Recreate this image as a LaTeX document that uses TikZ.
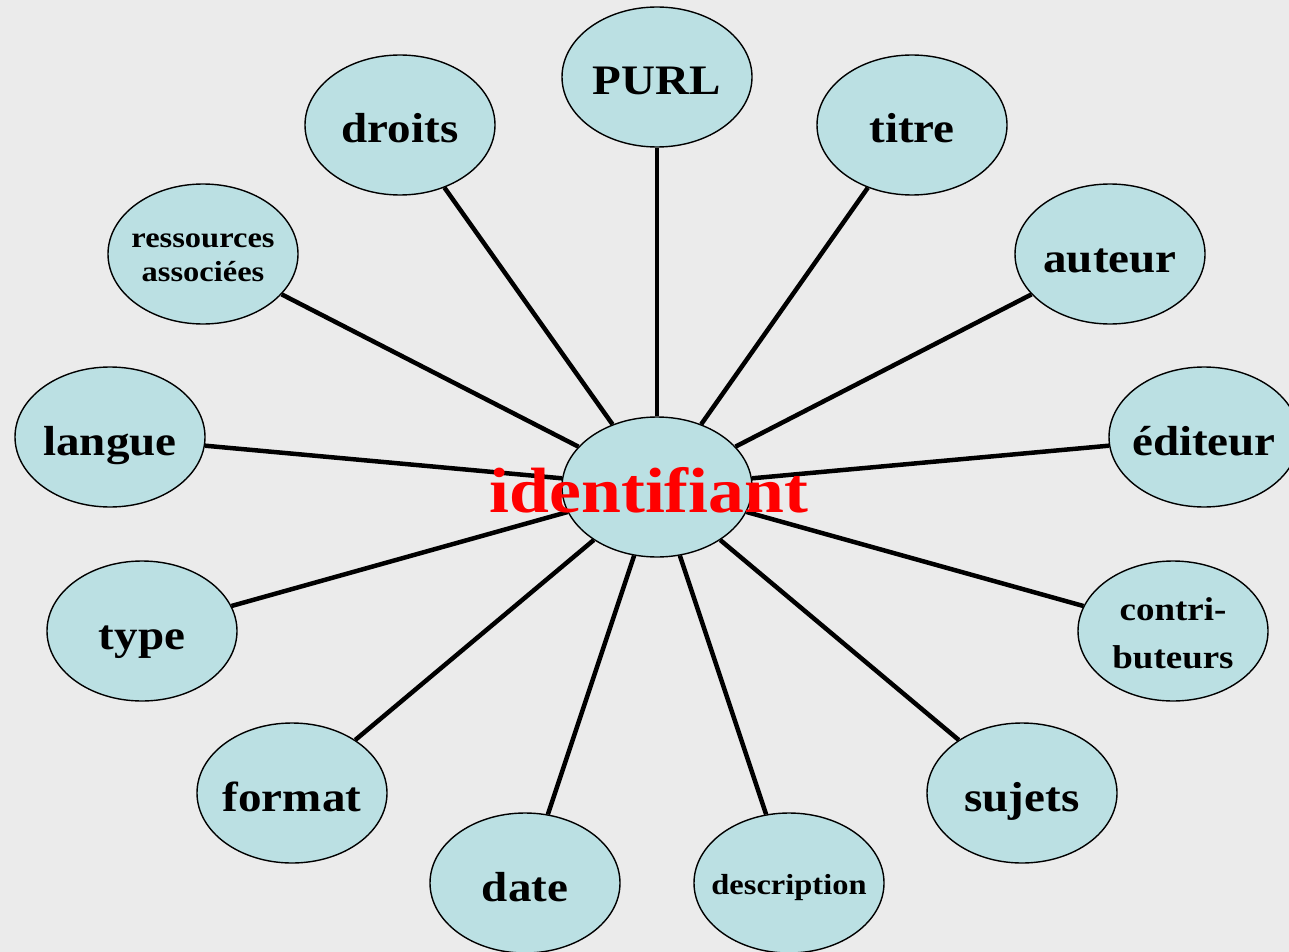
\documentclass[tikz,border=0pt]{standalone}
\usepackage{fontspec}
\setmainfont{Liberation Serif}[FakeStretch=1.12]
\usetikzlibrary{shapes.geometric}
\definecolor{bg}{HTML}{EBEBEB}
\definecolor{ellfill}{HTML}{BBE0E3}
\newcommand\onel[2][18pt]{\raisebox{-#1}{#2}}
\newcommand\twol[2][12pt]{\raisebox{-#1}{\begin{tabular}{@{}c@{}}#2\end{tabular}}}
\begin{document}
\begin{tikzpicture}[x=1pt,y=-1pt,
  bub/.style={ellipse,draw=black,line width=1.4pt,fill=ellfill,minimum width=190pt,minimum height=140pt,inner xsep=-60pt,inner ysep=0pt,text height=0pt,text depth=0pt,font=\bfseries\fontsize{42}{46}\selectfont},
  small/.style={font=\bfseries\fontsize{29}{31}\selectfont},
  mid/.style={font=\bfseries\fontsize{33}{40}\selectfont},
  link/.style={line width=4.5pt,draw=black}]
\fill[bg] (0,0) rectangle (1289,952);
\useasboundingbox (0,0) rectangle (1289,952);
\node[bub] (c) at (657,487) {};
\node[bub] (purl) at (657,77) {\onel{PURL}};
\node[bub] (titre) at (912,125) {\onel{titre}};
\node[bub] (auteur) at (1110,254) {\onel{auteur}};
\node[bub] (editeur) at (1204,437) {\onel{éditeur}};
\node[bub,mid] (contrib) at (1173,631) {\twol[12pt]{contri-\\[8pt]buteurs}};
\node[bub] (sujets) at (1022,793) {\onel{sujets}};
\node[bub,small] (desc) at (789,883) {\onel[11pt]{description}};
\node[bub] (date) at (525,883) {\onel{date}};
\node[bub] (format) at (292,793) {\onel{format}};
\node[bub] (type) at (142,631) {\onel{type}};
\node[bub] (langue) at (110,437) {\onel{langue}};
\node[bub,small] (ress) at (203,254) {\twol[11pt]{ressources\\[3pt]associées}};
\node[bub] (droits) at (400,125) {\onel{droits}};
\foreach \n in {purl,titre,auteur,editeur,contrib,sujets,desc,date,format,type,langue,ress,droits}
  \draw[link] (c) -- (\n);
\node[text=red,font=\bfseries\fontsize{64}{68}\selectfont,inner sep=0pt] (lbl) at (649,490) {identifiant};
\end{tikzpicture}
\end{document}
